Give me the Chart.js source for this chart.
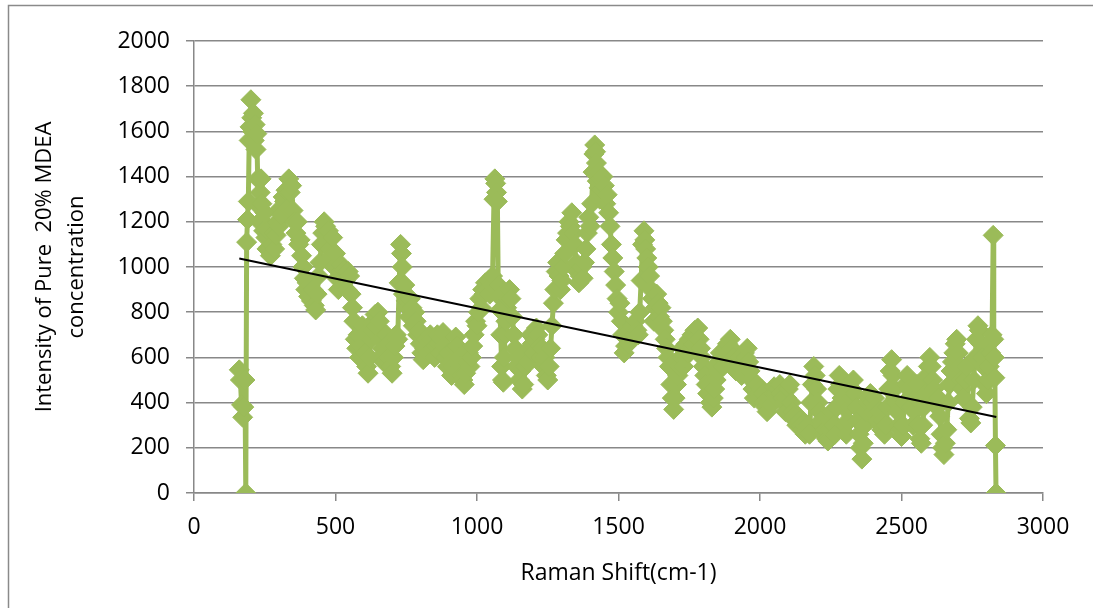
<!DOCTYPE html>
<html>
<head>
<meta charset="utf-8">
<script src="https://cdn.jsdelivr.net/npm/chart.js@4"></script>
<style>
  html, body { margin: 0; padding: 0; background: #fff; overflow: hidden; }
  #wrap { width: 1093px; height: 608px; position: relative; }
</style>
</head>
<body>
<div id="wrap"><canvas id="chart"></canvas></div>
<script>
'use strict';

// Raman shift (cm-1) and intensity
const ramanShift = [
  160,164,168,172,176,180,183,186,189,192,195,198,201,204,207,210,213,216,219,222,
  225,228,231,234,237,240,243,246,250,254,258,262,266,270,275,280,285,290,295,300,
  305,310,315,320,325,330,335,340,345,350,355,360,365,370,375,380,385,390,395,400,
  405,410,415,420,425,430,435,440,445,450,455,460,465,470,475,480,485,490,495,500,
  505,510,515,520,525,530,535,540,545,550,555,560,565,570,575,580,585,590,595,600,
  605,610,615,620,625,630,635,640,645,650,655,660,665,670,675,680,685,690,695,700,
  705,710,715,720,725,730,733,736,740,745,750,755,760,765,770,775,780,785,790,795,
  800,805,810,815,820,825,830,835,840,845,850,855,860,865,870,875,880,885,890,895,
  900,905,910,915,920,925,930,935,940,945,950,955,960,965,970,975,980,985,990,995,
  1000,1005,1010,1015,1020,1025,1030,1035,1040,1045,1050,1055,1060,1063,1066,1069,1072,1075,1078,1081,
  1084,1087,1090,1093,1096,1099,1102,1105,1110,1115,1120,1125,1130,1135,1140,1145,1150,1155,1160,1165,
  1170,1175,1180,1185,1190,1195,1200,1205,1210,1215,1220,1225,1230,1235,1240,1245,1250,1255,1260,1265,
  1270,1275,1280,1285,1290,1295,1300,1305,1310,1315,1320,1325,1330,1335,1340,1345,1350,1355,1360,1365,
  1370,1375,1380,1385,1390,1395,1400,1405,1410,1413,1416,1419,1422,1425,1428,1431,1434,1437,1440,1445,
  1450,1455,1460,1465,1470,1475,1480,1485,1490,1495,1500,1505,1510,1515,1520,1525,1530,1535,1540,1545,
  1550,1555,1560,1565,1570,1575,1580,1585,1590,1593,1596,1600,1605,1610,1615,1620,1625,1630,1635,1640,
  1645,1650,1655,1660,1665,1670,1675,1680,1685,1690,1695,1700,1705,1710,1715,1720,1725,1730,1735,1740,
  1745,1750,1755,1760,1765,1770,1775,1780,1785,1790,1795,1800,1805,1810,1815,1820,1825,1830,1835,1840,
  1845,1850,1855,1860,1865,1870,1875,1880,1885,1890,1895,1900,1905,1910,1915,1920,1925,1930,1935,1940,
  1945,1950,1955,1960,1965,1970,1975,1980,1985,1990,1995,2000,2005,2010,2015,2020,2025,2030,2035,2040,
  2045,2050,2055,2060,2065,2070,2075,2080,2085,2090,2095,2100,2105,2110,2115,2120,2125,2130,2135,2140,
  2145,2150,2155,2160,2165,2170,2175,2180,2185,2190,2195,2200,2205,2210,2215,2220,2225,2230,2235,2240,
  2245,2250,2255,2260,2265,2270,2275,2280,2285,2290,2295,2300,2305,2310,2315,2320,2325,2330,2335,2340,
  2345,2350,2355,2360,2365,2370,2375,2380,2385,2390,2395,2400,2405,2410,2415,2420,2425,2430,2435,2440,
  2445,2450,2455,2460,2465,2470,2475,2480,2485,2490,2495,2500,2505,2510,2515,2520,2525,2530,2535,2540,
  2545,2550,2555,2560,2565,2570,2575,2580,2585,2590,2595,2600,2605,2610,2615,2620,2625,2630,2635,2640,
  2645,2650,2655,2660,2665,2670,2675,2680,2685,2690,2695,2700,2705,2710,2715,2720,2725,2730,2735,2740,
  2745,2750,2755,2760,2765,2770,2775,2780,2785,2790,2795,2800,2805,2810,2815,2820,2824,2826,2828,2830,
  2832,2834
];

const intensity = [
  545,500,390,335,380,500,0,1110,1210,1290,1560,1620,1740,1660,1600,1680,1560,1630,1520,1590,
  1390,1270,1200,1330,1390,1280,1200,1160,1240,1130,1080,1160,1090,1050,1100,1150,1080,1140,1200,1180,
  1260,1230,1310,1290,1340,1260,1390,1330,1360,1250,1200,1150,1200,1100,1120,1050,1000,950,900,930,
  870,920,850,900,830,810,880,960,1020,1100,1150,1200,1180,1120,1160,1080,1050,1130,1000,1060,
  950,900,980,1010,960,990,940,900,980,960,880,820,760,680,640,700,600,650,740,700,
  620,560,530,600,680,720,760,790,740,800,760,680,640,580,620,700,660,600,560,530,
  600,650,700,680,930,1100,1060,1000,880,920,850,820,780,860,820,740,800,760,700,720,
  660,620,590,640,680,650,620,700,680,640,600,650,700,660,620,680,710,650,600,560,
  620,580,520,560,640,690,650,600,560,520,500,480,530,580,620,560,600,650,700,760,
  740,800,860,820,900,880,930,900,940,880,920,960,1300,1390,1370,1330,1290,920,870,810,
  700,560,500,490,600,700,760,820,860,900,860,780,700,640,560,600,500,540,460,480,
  560,620,580,640,700,660,620,680,730,700,650,600,640,560,600,520,500,560,640,740,
  840,900,980,1020,960,900,940,1000,1060,1120,1150,1200,1180,1240,1150,1100,1020,980,930,960,
  1000,950,1020,1080,1150,1220,1180,1280,1420,1500,1540,1510,1460,1380,1420,1350,1300,1390,1340,1400,
  1360,1280,1320,1240,1180,1100,1040,980,920,860,800,840,760,700,620,650,690,660,720,680,
  740,700,760,720,700,800,940,1100,1160,1120,1080,1040,1000,960,900,860,760,820,880,840,
  780,820,760,720,680,640,600,560,480,420,370,420,480,520,560,600,640,560,600,660,
  620,680,640,700,660,720,690,730,680,640,600,560,520,480,440,480,400,380,420,460,
  500,540,580,620,600,560,620,640,660,620,680,640,600,560,540,580,600,560,520,580,
  620,600,640,580,540,500,460,420,450,480,440,420,460,440,400,380,360,400,420,390,
  440,470,440,420,460,480,440,420,400,360,420,460,480,400,360,340,320,300,340,320,
  300,280,300,260,280,300,260,400,480,560,520,460,400,360,320,300,260,280,240,230,
  280,320,360,300,260,380,460,520,480,420,380,300,260,320,380,420,460,500,440,380,
  320,260,200,150,220,300,360,400,420,440,400,360,420,380,320,360,300,280,320,260,
  300,380,460,540,590,520,460,400,360,300,280,250,300,400,480,520,460,420,380,300,
  360,420,480,300,240,220,300,380,440,520,560,600,560,500,460,420,380,420,340,260,
  200,170,220,280,400,480,540,580,620,660,680,620,560,500,460,420,500,560,400,330,
  310,380,500,600,680,740,720,660,600,560,480,440,500,560,620,700,1140,680,600,510,
  210,0
];

// linear trendline end points
const trendX = [160, 2835];
const trendY = [1038, 336];

const xTicks = { min: 0, max: 3000, step: 500 };
const yTicks = { min: 0, max: 2000, step: 200 };

const GREEN = '#9BBB59';
const GRID = '#888888';
const FONT = '"Open Sans"';

const seriesPoints = ramanShift.map(function(x, i) { return { x: x, y: intensity[i] }; });
const trendPoints = trendX.map(function(x, i) { return { x: x, y: trendY[i] }; });

function plain(v) { return String(v); }

const frame = {
  id: 'frame',
  beforeDraw: function(chart) {
    const ctx = chart.ctx;
    ctx.save();
    ctx.fillStyle = '#fff';
    ctx.fillRect(0, 0, chart.width, chart.height);
    ctx.strokeStyle = '#8a8a8a';
    ctx.lineWidth = 1.5;
    ctx.beginPath();
    ctx.moveTo(8.5, chart.height + 5);
    ctx.lineTo(8.5, 5.5);
    ctx.lineTo(chart.width + 5, 5.5);
    ctx.stroke();
    ctx.restore();
  }
};

new Chart(document.getElementById('chart'), {
  type: 'scatter',
  data: {
    datasets: [
      {
        label: 'Linear',
        data: trendPoints,
        showLine: true,
        borderColor: '#000',
        borderWidth: 2,
        pointRadius: 0,
        order: 0
      },
      {
        label: 'Intensity',
        data: seriesPoints,
        showLine: true,
        borderColor: GREEN,
        backgroundColor: GREEN,
        borderWidth: 5,
        borderJoinStyle: 'round',
        borderCapStyle: 'round',
        pointStyle: 'rectRot',
        pointRadius: 10,
        pointBorderWidth: 1,
        pointBorderColor: GREEN,
        pointBackgroundColor: GREEN,
        order: 1
      }
    ]
  },
  options: {
    responsive: true,
    maintainAspectRatio: false,
    animation: false,
    events: [],
    layout: { padding: { left: 20, top: 41, right: 50, bottom: 0 } },
    plugins: {
      legend: { display: false },
      tooltip: { enabled: false }
    },
    scales: {
      x: {
        type: 'linear',
        min: xTicks.min,
        max: xTicks.max,
        afterFit: function(s) { s.height = 115; },
        border: { display: true, color: GRID, width: 1.5 },
        grid: { drawOnChartArea: false, drawTicks: true, tickLength: 8, color: GRID, lineWidth: 1.5 },
        ticks: { stepSize: xTicks.step, color: '#000', padding: 13, maxRotation: 0, callback: plain, font: { family: FONT, size: 23 } },
        title: {
          display: true,
          text: 'Raman Shift(cm-1)',
          color: '#000',
          font: { family: FONT, size: 23 },
          padding: { top: 4, bottom: 21 }
        }
      },
      y: {
        min: yTicks.min,
        max: yTicks.max,
        afterFit: function(s) { s.width = 174; },
        border: { display: true, color: GRID, width: 1.5 },
        grid: { drawOnChartArea: true, drawTicks: true, tickLength: 8, color: GRID, lineWidth: 1.5 },
        ticks: { stepSize: yTicks.step, color: '#000', padding: 16, callback: plain, font: { family: FONT, size: 23 } },
        title: {
          display: true,
          text: ['Intensity of Pure  20% MDEA', 'concentration'],
          color: '#000',
          font: { family: FONT, size: 22, lineHeight: 1.45 },
          padding: { top: 9, bottom: 0 }
        }
      }
    }
  },
  plugins: [frame]
});
</script>
</body>
</html>
